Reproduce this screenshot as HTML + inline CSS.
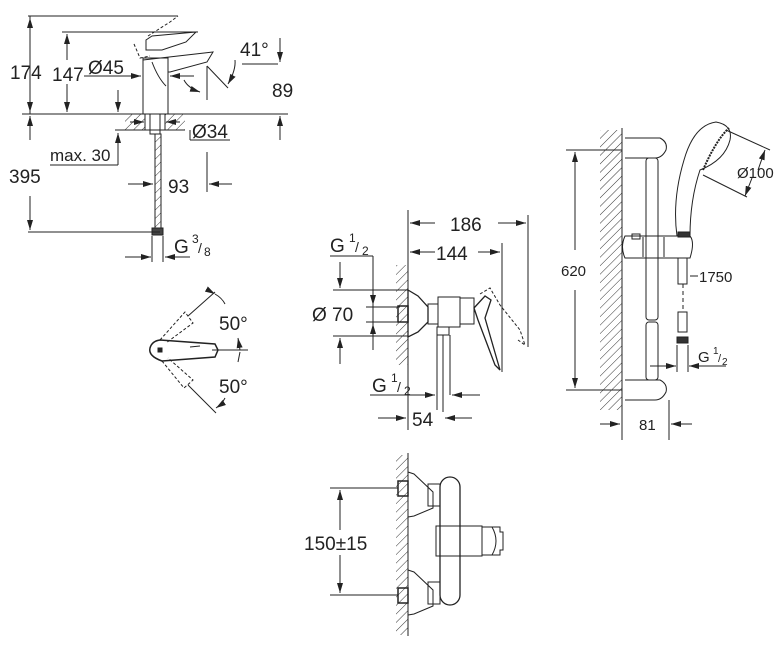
<!DOCTYPE html>
<html><head><style>
html,body{margin:0;padding:0;background:#fff;width:780px;height:650px;overflow:hidden}
svg text{font-family:"Liberation Sans",sans-serif;fill:#222}
</style></head><body>
<svg width="780" height="650" viewBox="0 0 780 650" xmlns="http://www.w3.org/2000/svg">
<defs>
<pattern id="h" width="6" height="6" patternUnits="userSpaceOnUse" patternTransform="rotate(45)"><line x1="0" y1="0" x2="0" y2="6" stroke="#333" stroke-width="1"/></pattern>
<marker id="a" markerWidth="10" markerHeight="6" refX="10" refY="3" orient="auto" markerUnits="userSpaceOnUse"><path d="M0,0 L10,3 L0,6 z" fill="#222"/></marker>
</defs>
<g stroke="#222" stroke-width="1" fill="none">
<!-- ===== Basin faucet ===== -->
<line x1="28" y1="16" x2="178" y2="16"/>
<line x1="62" y1="32" x2="198" y2="32"/>
<line x1="22" y1="114" x2="288" y2="114"/>
<line x1="30" y1="16" x2="30" y2="114"/>
<line x1="30" y1="58" x2="30" y2="18" marker-end="url(#a)"/>
<line x1="30" y1="84" x2="30" y2="112" marker-end="url(#a)"/>
<line x1="67" y1="60" x2="67" y2="34" marker-end="url(#a)"/>
<line x1="67" y1="84" x2="67" y2="112" marker-end="url(#a)"/>
<line x1="84" y1="76" x2="141" y2="76" marker-end="url(#a)"/>
<line x1="194" y1="76" x2="170" y2="76" marker-end="url(#a)"/>
<rect x="143" y="58" width="25" height="56"/>
<path d="M143,60 L213,52 L207,62 L170,72 L168,72"/>
<path d="M152,62 Q158,78 166,86"/>
<path d="M146,50 L146,40 L152,36 L196,32 L186,42 L162,50 Z"/>
<path d="M134,44 L140,58 L150,56 M148,36 L170,22 L178,16" stroke-dasharray="3,2"/>
<path d="M184,80 Q188,88 200,92" marker-end="url(#a)"/>
<line x1="207" y1="66" x2="207" y2="100"/>
<line x1="207" y1="66" x2="228" y2="88"/>
<path d="M235,60 Q236,70 228,84" marker-end="url(#a)"/>
<line x1="242" y1="64" x2="278" y2="64"/>
<line x1="280" y1="38" x2="280" y2="62" marker-end="url(#a)"/>
<line x1="280" y1="140" x2="280" y2="116" marker-end="url(#a)"/>
<rect x="125" y="114" width="60" height="16" fill="url(#h)" stroke="none"/>
<line x1="115" y1="130" x2="185" y2="130"/>
<rect x="145" y="114" width="20" height="16" fill="#fff"/>
<line x1="150" y1="114" x2="150" y2="130"/><line x1="160" y1="114" x2="160" y2="130"/>
<line x1="130" y1="122" x2="144" y2="122" marker-end="url(#a)"/>
<line x1="180" y1="122" x2="166" y2="122" marker-end="url(#a)"/>
<rect x="150" y="130" width="10" height="4"/>
<rect x="155" y="134" width="6" height="96" fill="url(#h)" stroke="#222"/>
<rect x="152" y="228" width="11" height="7" fill="#444"/>
<line x1="190" y1="140" x2="230" y2="140"/>
<line x1="190" y1="130" x2="190" y2="140"/>
<line x1="118" y1="150" x2="118" y2="133" marker-end="url(#a)"/>
<line x1="118" y1="90" x2="118" y2="112" marker-end="url(#a)"/>
<line x1="50" y1="165" x2="118" y2="165"/><line x1="118" y1="150" x2="118" y2="165"/>
<line x1="30" y1="140" x2="30" y2="116" marker-end="url(#a)"/>
<line x1="30" y1="196" x2="30" y2="230" marker-end="url(#a)"/>
<line x1="28" y1="232" x2="160" y2="232"/>
<line x1="207" y1="152" x2="207" y2="192"/>
<line x1="128" y1="184" x2="153" y2="184" marker-end="url(#a)"/>
<line x1="232" y1="184" x2="209" y2="184" marker-end="url(#a)"/>
<line x1="152" y1="236" x2="152" y2="262"/><line x1="163" y1="236" x2="163" y2="262"/>
<line x1="125" y1="257" x2="151" y2="257" marker-end="url(#a)"/>
<line x1="190" y1="257" x2="165" y2="257" marker-end="url(#a)"/>
<!-- top view -->
<path d="M160,340 L215,344 L218,350 L215,357 L162,361 Q148,356 150,348 Q152,341 160,340 Z" stroke-width="1.5"/>
<rect x="158" y="348" width="4" height="4" fill="#222"/>
<line x1="190" y1="347" x2="200" y2="346"/>
<path d="M160,340 L185,312 L193,323 L166,343" stroke-dasharray="3,2"/>
<path d="M162,361 L184,388 L193,380 L168,358" stroke-dasharray="3,2"/>
<line x1="188" y1="316" x2="215" y2="292"/><line x1="188" y1="385" x2="216" y2="413"/>
<line x1="212" y1="350" x2="248" y2="350"/>
<path d="M215,294 Q222,298 225,304" marker-start="url(#a)"/><path d="M240,350 L238,338" marker-end="url(#a)"/>
<path d="M240,352 L238,362" /><path d="M225,398 Q222,404 216,408" marker-end="url(#a)"/>
<!-- ===== Shower valve ===== -->
<rect x="396" y="265" width="12" height="100" fill="url(#h)" stroke="none"/>
<line x1="408" y1="210" x2="408" y2="430"/>
<line x1="528" y1="215" x2="528" y2="347"/>
<line x1="502" y1="243" x2="502" y2="372"/>
<line x1="435" y1="223" x2="410" y2="223" marker-end="url(#a)"/>
<line x1="498" y1="223" x2="526" y2="223" marker-end="url(#a)"/>
<line x1="435" y1="252" x2="410" y2="252" marker-end="url(#a)"/>
<line x1="478" y1="252" x2="500" y2="252" marker-end="url(#a)"/>
<line x1="330" y1="256" x2="373" y2="256"/><line x1="373" y1="256" x2="373" y2="350"/>
<line x1="333" y1="290" x2="408" y2="290"/><line x1="333" y1="336" x2="408" y2="336"/>
<line x1="366" y1="307" x2="400" y2="307"/><line x1="366" y1="322" x2="400" y2="322"/>
<line x1="340" y1="262" x2="340" y2="288" marker-end="url(#a)"/>
<line x1="340" y1="364" x2="340" y2="338" marker-end="url(#a)"/>
<line x1="373" y1="278" x2="373" y2="305" marker-end="url(#a)"/>
<line x1="373" y1="345" x2="373" y2="324" marker-end="url(#a)"/>
<rect x="398" y="306" width="10" height="16" stroke-width="1.5"/>
<path d="M408,290 L418,296 L428,307 L428,322 L418,332 L408,337 Z" stroke-width="1.3"/>
<rect x="428" y="304" width="10" height="20"/>
<rect x="438" y="297" width="22" height="30"/>
<rect x="460" y="298" width="14" height="26"/>
<rect x="437" y="327" width="12" height="8"/>
<path d="M474,308 L485,296 L491,300 L485,318 L500,370 L495,365 L478,320 Z" stroke-width="1.3"/>
<path d="M480,294 L490,288 L500,305 L520,330 L525,345 L518,340" stroke-dasharray="3,2"/>
<line x1="437" y1="335" x2="437" y2="410"/><line x1="443" y1="335" x2="443" y2="412"/>
<line x1="450" y1="335" x2="450" y2="395"/>
<line x1="370" y1="395" x2="435" y2="395" marker-end="url(#a)"/>
<line x1="480" y1="395" x2="452" y2="395" marker-end="url(#a)"/>
<line x1="378" y1="418" x2="406" y2="418" marker-end="url(#a)"/>
<line x1="472" y1="418" x2="445" y2="418" marker-end="url(#a)"/>
<!-- ===== Bottom view ===== -->
<rect x="396" y="455" width="12" height="180" fill="url(#h)" stroke="none"/>
<line x1="408" y1="453" x2="408" y2="636"/>
<line x1="330" y1="488" x2="398" y2="488"/><line x1="330" y1="595" x2="398" y2="595"/>
<line x1="340" y1="530" x2="340" y2="490" marker-end="url(#a)"/>
<line x1="340" y1="555" x2="340" y2="593" marker-end="url(#a)"/>
<rect x="398" y="481" width="10" height="15" stroke-width="1.5"/>
<rect x="398" y="588" width="10" height="15" stroke-width="1.5"/>
<path d="M408,472 L414,474 L433,492 L433,508 L414,516 L408,517 Z"/>
<path d="M408,570 L414,572 L433,590 L433,606 L414,614 L408,615 Z"/>
<rect x="428" y="484" width="12" height="22"/><rect x="428" y="582" width="12" height="22"/>
<rect x="440" y="477" width="20" height="128" rx="10" stroke-width="1.3"/>
<rect x="436" y="526" width="46" height="30"/>
<path d="M482,527 L492,527 Q500,541 492,555 L482,555 Z"/>
<path d="M492,527 L500,527 L500,532 L503,532 L503,550 L500,550 L500,555 L492,555"/>
<!-- ===== Shower rail ===== -->
<rect x="600" y="130" width="22" height="280" fill="url(#h)" stroke="none"/>
<line x1="622" y1="128" x2="622" y2="440"/>
<line x1="566" y1="150" x2="622" y2="150"/><line x1="566" y1="390" x2="622" y2="390"/>
<line x1="575" y1="250" x2="575" y2="152" marker-end="url(#a)"/>
<line x1="575" y1="290" x2="575" y2="388" marker-end="url(#a)"/>
<path d="M625,138 L660,138 Q668,142 666,150 Q662,158 655,158 L625,158"/>
<path d="M625,380 L660,380 Q668,384 666,392 Q662,400 655,400 L625,400"/>
<rect x="646" y="158" width="12" height="162" rx="3"/>
<rect x="646" y="322" width="12" height="58" rx="3"/>
<path d="M625,236 L690,236 Q695,242 690,258 L625,258 Q620,247 625,236 Z"/>
<rect x="632" y="234" width="8" height="5"/>
<line x1="643" y1="237" x2="643" y2="257"/><line x1="664" y1="237" x2="664" y2="257"/>
<path d="M677,236 Q672,200 684,160 Q694,125 716,122 Q733,125 730,140 Q725,160 700,170 Q690,200 690,236" />
<path d="M703,170 Q716,140 729,128" stroke-width="2" stroke-dasharray="2,1"/>
<rect x="678" y="232" width="12" height="5" fill="#333"/>
<rect x="678" y="258" width="9" height="26"/>
<line x1="683" y1="284" x2="683" y2="312" stroke-dasharray="4,3"/>
<rect x="678" y="312" width="9" height="20"/><rect x="677" y="337" width="11" height="6" fill="#333"/>
<line x1="690" y1="276" x2="698" y2="276"/>
<line x1="726" y1="130" x2="770" y2="150"/><line x1="703" y1="175" x2="747" y2="197"/>
<line x1="758" y1="170" x2="765" y2="150" marker-end="url(#a)"/>
<line x1="752" y1="178" x2="745" y2="196" marker-end="url(#a)"/>
<line x1="677" y1="345" x2="677" y2="372"/><line x1="688" y1="345" x2="688" y2="372"/>
<line x1="650" y1="366" x2="676" y2="366" marker-end="url(#a)"/>
<line x1="726" y1="366" x2="689" y2="366" marker-end="url(#a)"/>
<line x1="669" y1="400" x2="669" y2="440"/>
<line x1="600" y1="424" x2="620" y2="424" marker-end="url(#a)"/>
<line x1="692" y1="424" x2="671" y2="424" marker-end="url(#a)"/>
</g>
<g font-size="19">
<text x="10" y="79">174</text>
<text x="52" y="81">147</text>
<text x="88" y="74">Ø45</text>
<text x="240" y="56">41°</text>
<text x="272" y="97">89</text>
<text x="192" y="138">Ø34</text>
<text x="50" y="161" font-size="17">max. 30</text>
<text x="9" y="183">395</text>
<text x="168" y="193">93</text>
<text x="174" y="253">G</text><text x="192" y="243" font-size="12">3</text><text x="198" y="253" font-size="14">/</text><text x="204" y="256" font-size="12">8</text>
<text x="219" y="330">50°</text>
<text x="219" y="393">50°</text>
<text x="330" y="252">G</text><text x="349" y="242" font-size="12">1</text><text x="355" y="252" font-size="14">/</text><text x="362" y="255" font-size="12">2</text>
<text x="312" y="321">Ø 70</text>
<text x="372" y="392">G</text><text x="391" y="382" font-size="12">1</text><text x="397" y="392" font-size="14">/</text><text x="404" y="395" font-size="12">2</text>
<text x="412" y="426">54</text>
<text x="450" y="231">186</text>
<text x="436" y="260">144</text>
<text x="304" y="550">150±15</text>
</g>
<g font-size="15">
<text x="737" y="178">Ø100</text>
<text x="699" y="282">1750</text>
<text x="561" y="276">620</text>
<text x="698" y="362">G</text><text x="713" y="354" font-size="10">1</text><text x="718" y="362" font-size="11">/</text><text x="722" y="365" font-size="10">2</text>
<text x="639" y="430">81</text>
</g>
</svg>
</body></html>
